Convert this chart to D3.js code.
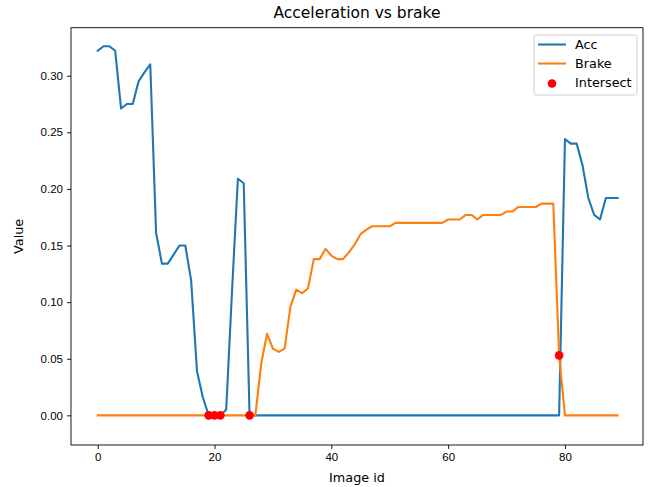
<!DOCTYPE html>
<html>
<head>
<meta charset="utf-8">
<script src="https://cdn.jsdelivr.net/npm/d3@7"></script>
<style>
  body { margin: 0; background: #fff; }
  svg { font-family: "DejaVu Sans", sans-serif; }
</style>
</head>
<body>
<div id="chart"></div>
<script>
// image ids 0..89
const acc = [
  0.322, 0.326, 0.326, 0.322, 0.271, 0.275, 0.275, 0.295, 0.303, 0.310,
  0.161, 0.134, 0.134, 0.142, 0.150, 0.150, 0.119, 0.039, 0.016, 0,
  0, 0, 0.005, 0.110, 0.209, 0.205, 0, 0, 0, 0,
  0, 0, 0, 0, 0, 0, 0, 0, 0, 0,
  0, 0, 0, 0, 0, 0, 0, 0, 0, 0,
  0, 0, 0, 0, 0, 0, 0, 0, 0, 0,
  0, 0, 0, 0, 0, 0, 0, 0, 0, 0,
  0, 0, 0, 0, 0, 0, 0, 0, 0, 0,
  0.244, 0.240, 0.240, 0.221, 0.192, 0.177, 0.173, 0.192, 0.192, 0.192
];
const brake = [
  0, 0, 0, 0, 0, 0, 0, 0, 0, 0,
  0, 0, 0, 0, 0, 0, 0, 0, 0, 0,
  0, 0, 0, 0, 0, 0, 0, 0, 0.046, 0.072,
  0.059, 0.056, 0.059, 0.096, 0.111, 0.108, 0.112, 0.138, 0.138, 0.147,
  0.141, 0.138, 0.138, 0.144, 0.151, 0.160, 0.164, 0.167, 0.167, 0.167,
  0.167, 0.170, 0.170, 0.170, 0.170, 0.170, 0.170, 0.170, 0.170, 0.170,
  0.173, 0.173, 0.173, 0.177, 0.177, 0.173, 0.177, 0.177, 0.177, 0.177,
  0.180, 0.180, 0.184, 0.184, 0.184, 0.184, 0.187, 0.187, 0.187, 0.053,
  0, 0, 0, 0, 0, 0, 0, 0, 0, 0
];
const intersectIds = [19, 20, 21, 26, 79];
const xTicks = [0, 20, 40, 60, 80];
const yTicks = [0, 0.05, 0.10, 0.15, 0.20, 0.25, 0.30];
const legendLabels = ['Acc', 'Brake', 'Intersect'];

const width = 648, height = 487;
const margin = {top: 27.7, right: 5, bottom: 42, left: 71};

const x = d3.scaleLinear()
  .domain([-4.57, 93.36])
  .range([margin.left, width - margin.right]);

const y = d3.scaleLinear()
  .domain([-0.0262, 0.3424])
  .range([height - margin.bottom, margin.top]);

const svg = d3.select('#chart').append('svg')
  .attr('width', width)
  .attr('height', height);

const line = d3.line()
  .x((d, i) => x(i))
  .y(d => y(d));

svg.append('defs').append('clipPath').attr('id', 'clip')
  .append('rect')
  .attr('x', margin.left).attr('y', margin.top)
  .attr('width', width - margin.left - margin.right)
  .attr('height', height - margin.top - margin.bottom);

const plot = svg.append('g').attr('clip-path', 'url(#clip)');

plot.append('path')
  .datum(acc)
  .attr('fill', 'none')
  .attr('stroke', '#1f77b4')
  .attr('stroke-width', 2.1)
  .attr('stroke-linejoin', 'round')
  .attr('stroke-linecap', 'square')
  .attr('d', line);

plot.append('path')
  .datum(brake)
  .attr('fill', 'none')
  .attr('stroke', '#ff7f0e')
  .attr('stroke-width', 2.1)
  .attr('stroke-linejoin', 'round')
  .attr('stroke-linecap', 'square')
  .attr('d', line);

plot.selectAll('.dot')
  .data(intersectIds)
  .enter().append('circle')
  .attr('class', 'dot')
  .attr('cx', d => x(d))
  .attr('cy', d => y(brake[d]))
  .attr('r', 4.3)
  .attr('fill', '#ff0000');

// axes
const xAxis = svg.append('g')
  .attr('transform', 'translate(0,' + (height - margin.bottom) + ')')
  .call(d3.axisBottom(x).tickValues(xTicks).tickSize(4).tickPadding(4).tickFormat(d3.format('d')));

const yAxis = svg.append('g')
  .attr('transform', 'translate(' + margin.left + ',0)')
  .call(d3.axisLeft(y).tickValues(yTicks).tickSize(4).tickPadding(4).tickFormat(d3.format('.2f')));

[xAxis, yAxis].forEach(g => {
  g.select('.domain').remove();
  g.selectAll('line').attr('stroke', '#000').attr('stroke-width', 0.9);
  g.selectAll('text').attr('fill', '#000').style('font-size', '11.5px');
});

svg.append('rect')
  .attr('x', margin.left).attr('y', margin.top)
  .attr('width', width - margin.left - margin.right)
  .attr('height', height - margin.top - margin.bottom)
  .attr('fill', 'none')
  .attr('stroke', '#000')
  .attr('stroke-width', 0.9);

// labels
svg.append('text')
  .attr('x', (margin.left + width - margin.right) / 2)
  .attr('y', 18)
  .attr('text-anchor', 'middle')
  .style('font-size', '15.5px')
  .text('Acceleration vs brake');

svg.append('text')
  .attr('x', (margin.left + width - margin.right) / 2)
  .attr('y', 482)
  .attr('text-anchor', 'middle')
  .style('font-size', '12.8px')
  .text('Image id');

svg.append('text')
  .attr('transform', 'translate(23,' + ((margin.top + height - margin.bottom) / 2) + ') rotate(-90)')
  .attr('text-anchor', 'middle')
  .style('font-size', '12.8px')
  .text('Value');

// legend
const legend = svg.append('g').attr('transform', 'translate(534,35)');
legend.append('rect')
  .attr('width', 103).attr('height', 60)
  .attr('rx', 2.5)
  .attr('fill', '#fff').attr('fill-opacity', 0.8)
  .attr('stroke', '#d0d0d0').attr('stroke-width', 1);

legendLabels.forEach((label, i) => {
  const cy = 9.5 + i * 19;
  if (i < 2) {
    legend.append('line')
      .attr('x1', 4).attr('x2', 32)
      .attr('y1', cy).attr('y2', cy)
      .attr('stroke', i === 0 ? '#1f77b4' : '#ff7f0e')
      .attr('stroke-width', 2.1);
  } else {
    legend.append('circle')
      .attr('cx', 18).attr('cy', cy + 1)
      .attr('r', 4.3)
      .attr('fill', '#ff0000');
  }
  legend.append('text')
    .attr('x', 41).attr('y', cy)
    .attr('dy', '0.35em')
    .style('font-size', '12.8px')
    .text(label);
});
</script>
</body>
</html>
